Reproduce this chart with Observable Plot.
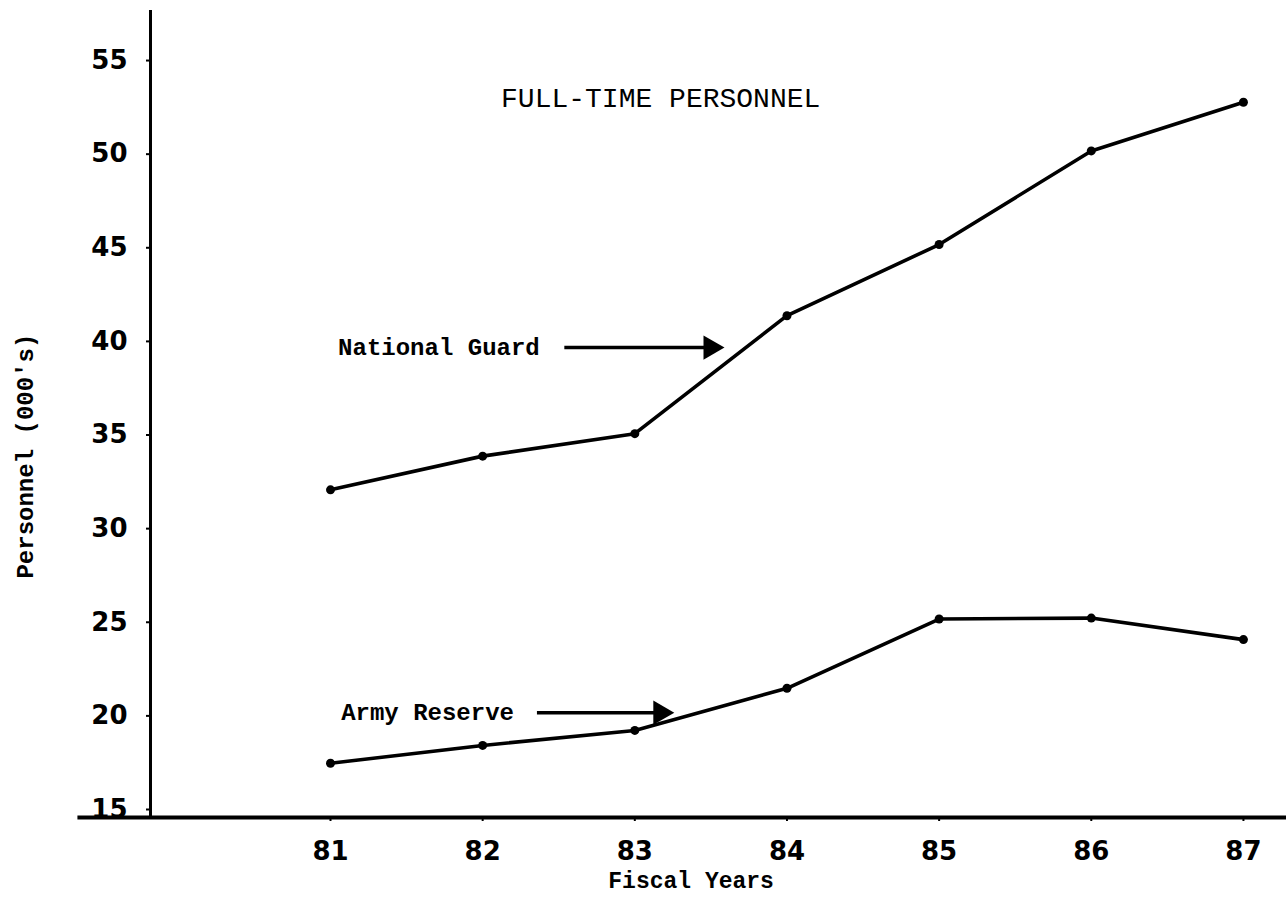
<!DOCTYPE html>
<html>
<head>
<meta charset="utf-8">
<script src="https://cdn.jsdelivr.net/npm/d3@7"></script>
<script src="https://cdn.jsdelivr.net/npm/@observablehq/plot@0.6"></script>
<style>
  html, body { margin: 0; padding: 0; background: #fff; }
  #chart svg { display: block; }
</style>
</head>
<body>
<div id="chart"></div>
<script>
// ---- data ----
const years = [81, 82, 83, 84, 85, 86, 87];
const nationalGuard = [32.5, 34.3, 35.5, 41.8, 45.6, 50.6, 53.2];
const armyReserve = [17.9, 18.85, 19.65, 21.9, 25.6, 25.65, 24.5];
const seriesNames = ["National Guard", "Army Reserve"];
const yTicks = [15, 20, 25, 30, 35, 40, 45, 50, 55];
const xTickLabels = ["81", "82", "83", "84", "85", "86", "87"];
const chartTitle = "FULL-TIME PERSONNEL";
const xLabel = "Fiscal Years";
const yLabel = "Personnel (000's)";

// annotation anchors (data space)
const labelX = [81.05, 81.07];
const labelY = [40.1, 20.6];
const arrowX1 = [82.54, 82.36];
const arrowX2 = [83.55, 83.22];
const titleX = 83.17;
const titleY = 53.4;
const xLabelX = 83.37;
const yLabelY = 34.3;

const xDomain = [79.817, 87.283];
const yDomain = [15, 58.1];
const xAxisStart = 79.34;

// ---- tables for the library ----
const rows = [];
years.forEach((yr, i) => {
  rows.push({series: seriesNames[0], year: yr, value: nationalGuard[i]});
  rows.push({series: seriesNames[1], year: yr, value: armyReserve[i]});
});
const notes = seriesNames.map((s, i) => ({label: s, x: labelX[i], y: labelY[i], x1: arrowX1[i], x2: arrowX2[i]}));

const mono = "'Liberation Mono', 'DejaVu Sans Mono', monospace";
const digits = "'DejaVu Sans', 'Liberation Sans', sans-serif";

const chart = Plot.plot({
  width: 1286,
  height: 902,
  marginLeft: 150,
  marginRight: 0,
  marginTop: 10,
  marginBottom: 85,
  x: {type: "linear", domain: xDomain, axis: null},
  y: {type: "linear", domain: yDomain, axis: null},
  style: {background: "#fff", color: "#000", overflow: "visible"},
  marks: [
    Plot.axisY(yTicks, {
      anchor: "left", tickSize: 4, tickPadding: 19, dy: -8,
      fontSize: 26, fontWeight: "bold", fontFamily: digits,
      tickFormat: d => String(d), label: null, strokeWidth: 2
    }),
    Plot.axisX(years, {
      anchor: "bottom", tickSize: 4, tickPadding: 20,
      fontSize: 26, fontWeight: "bold", fontFamily: digits,
      tickFormat: d => xTickLabels[years.indexOf(d)], label: null, strokeWidth: 2
    }),
    Plot.ruleX([xDomain[0]], {y1: yDomain[0], y2: yDomain[1], stroke: "#000", strokeWidth: 3}),
    Plot.ruleY([yDomain[0]], {x1: xAxisStart, x2: xDomain[1], stroke: "#000", strokeWidth: 4}),
    Plot.line(rows, {x: "year", y: "value", z: "series", stroke: "#000", strokeWidth: 3.6, strokeLinejoin: "round", strokeLinecap: "round"}),
    Plot.dot(rows, {x: "year", y: "value", r: 4.5, fill: "#000", stroke: "none"}),
    Plot.ruleY(notes, {x1: "x1", x2: "x2", y: "y", stroke: "#000", strokeWidth: 3.5}),
    Plot.dot(notes, {x: "x2", y: "y", symbol: "triangle", rotate: 90, r: 9, fill: "#000", stroke: "none", dx: -8}),
    Plot.text(notes, {x: "x", y: "y", text: "label", textAnchor: "start", fontFamily: mono, fontWeight: "bold", fontSize: 24, letterSpacing: 1, fill: "#000"}),
    Plot.text([chartTitle], {x: titleX, y: titleY, fontFamily: mono, fontSize: 28, letterSpacing: 1.6, fill: "#000"}),
    Plot.text([xLabel], {x: xLabelX, frameAnchor: "bottom", dy: 70, fontFamily: mono, fontWeight: "bold", fontSize: 23, fill: "#000"}),
    Plot.text([yLabel], {y: yLabelY, frameAnchor: "left", textAnchor: "middle", dx: -125, rotate: -90, fontFamily: mono, fontWeight: "bold", fontSize: 24, letterSpacing: 0.5, fill: "#000"})
  ]
});
document.getElementById("chart").append(chart);
</script>
</body>
</html>
